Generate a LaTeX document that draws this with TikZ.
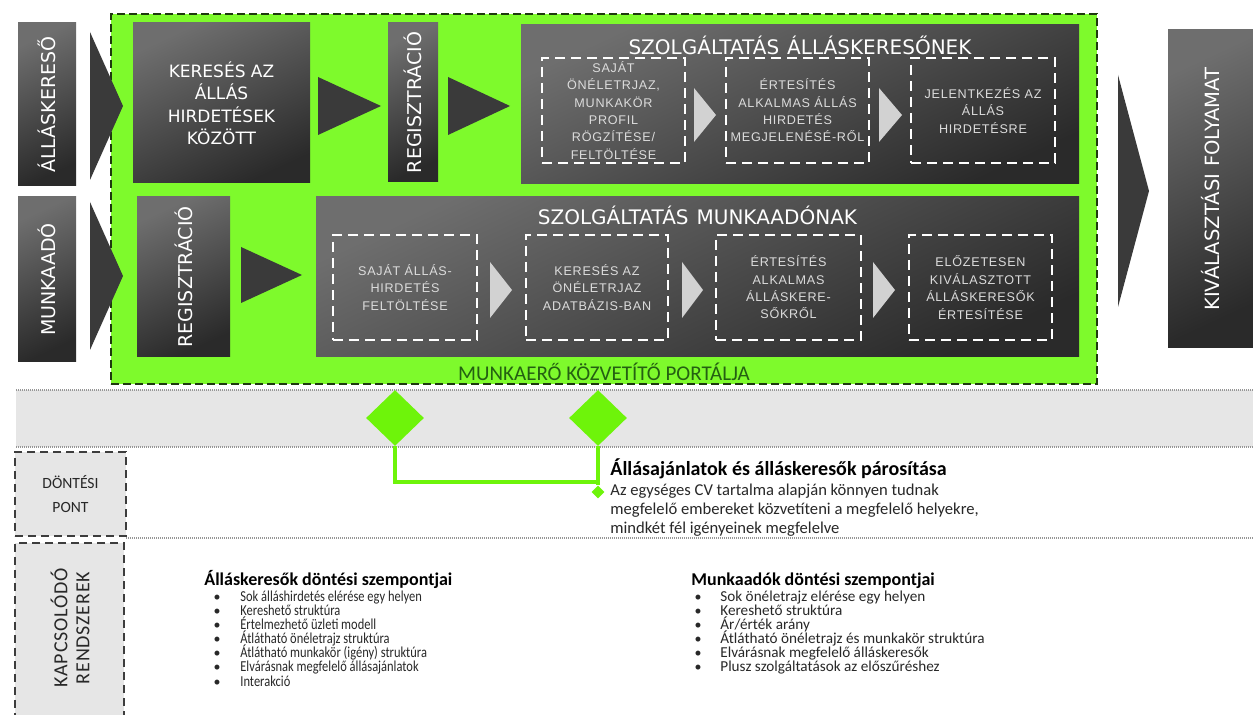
\documentclass[tikz,border=0pt]{standalone}
\usepackage{fontspec}
\setmainfont{Carlito}
\newfontfamily\boxfont{DejaVu Sans}
\newfontfamily\thinfont[LetterSpace=6]{Liberation Sans}
\newfontfamily\calfont{Carlito}
\newfontfamily\calnarrow[FakeStretch=0.82]{Carlito}
\newfontfamily\calspaced[LetterSpace=4]{Carlito}
\usetikzlibrary{shapes.geometric}

\definecolor{portalgreen}{RGB}{126,250,44}
\definecolor{portalborder}{RGB}{30,58,14}
\definecolor{diagreen}{RGB}{110,244,10}
\definecolor{darkgreen}{RGB}{36,96,18}
\definecolor{boxtop}{RGB}{110,110,110}
\definecolor{boxbot}{RGB}{42,42,42}
\definecolor{chev}{RGB}{58,58,58}
\definecolor{chevlight}{RGB}{210,210,210}
\definecolor{bandgray}{RGB}{230,230,230}
\definecolor{steptext}{RGB}{220,220,220}
\definecolor{inktext}{RGB}{40,40,40}
\definecolor{rulegray}{RGB}{150,150,150}

\tikzset{
  darkbox/.style={top color=boxtop, bottom color=boxbot, shading angle=25, inner sep=0pt},
  whitelabel/.style={text=white, font=\boxfont\fontsize{9.5}{11}\selectfont, inner sep=0pt},
  chevron/.style={fill=chev},
  smallchev/.style={fill=chevlight},
  stepbox/.style={draw=white, line width=1pt, dash pattern=on 5pt off 3pt, inner sep=0pt,
    align=center, text=steptext, font=\thinfont\fontsize{6.3}{8.7}\selectfont},
  portal/.style={fill=portalgreen, draw=portalborder, line width=1.1pt, dash pattern=on 4pt off 2pt},
  dotrule/.style={draw=rulegray, line width=0.6pt, dash pattern=on 0.6pt off 0.4pt},
  sidebox/.style={fill=bandgray, draw=inktext!90, line width=0.9pt, dash pattern=on 4pt off 2.5pt, inner sep=0pt},
  gline/.style={draw=diagreen, line width=1.6pt},
  decision/.style={diamond, fill=diagreen, inner sep=0pt, aspect=1},
  heading/.style={anchor=base west, inner sep=0pt, text=black, font=\calfont\bfseries\fontsize{9}{10}\selectfont},
  matchhead/.style={anchor=base west, inner sep=0pt, text=black, font=\calfont\bfseries\fontsize{10}{11}\selectfont},
  bodyline/.style={anchor=base west, inner sep=0pt, text=inktext, font=\calfont\fontsize{8.3}{9}\selectfont},
  listitem/.style={anchor=base west, inner sep=0pt, text=inktext, font=\calfont\fontsize{7.6}{8}\selectfont},
  narrowitem/.style={anchor=base west, inner sep=0pt, text=inktext, font=\calnarrow\fontsize{7.6}{8}\selectfont},
  listdot/.style={anchor=base, inner sep=0pt, text=inktext, font=\calfont\fontsize{7}{8}\selectfont},
}

\begin{document}
\begin{tikzpicture}[x=0.5pt,y=-0.5pt]
\useasboundingbox (0,0) rectangle (1253,715);
\fill[white] (0,0) rectangle (1253,715);

% grey band under the portal
\fill[bandgray] (16,390) rectangle (1253,447);
\draw[dotrule] (16,390) -- (1253,390);
\draw[dotrule] (16,447) -- (1253,447);
\draw[dotrule] (126,538) -- (1253,538);

% the portal area
\node[portal, minimum width=493pt, minimum height=185pt] (portal) at (604,199) {};
\node[text=darkgreen, font=\calfont\fontsize{10.5}{12}\selectfont, inner sep=0pt] (portallabel) at (604,372) {MUNKAERŐ KÖZVETÍTŐ PORTÁLJA};

% actors on the left
\node[darkbox, minimum width=29pt, minimum height=81.5pt] (seeker) at (47,104.5) {};
\node[whitelabel, rotate=90] (seekerlabel) at (seeker.center) {ÁLLÁSKERESŐ};
\node[darkbox, minimum width=29pt, minimum height=82.5pt] (employer) at (47,279.5) {};
\node[whitelabel, rotate=90] (employerlabel) at (employer.center) {MUNKAADÓ};

\fill[chevron] (90,32) -- (123,106) -- (90,180) -- cycle;
\fill[chevron] (90,202) -- (123,276) -- (90,350) -- cycle;

% job seeker row
\node[darkbox, minimum width=88.5pt, minimum height=80pt] (search) at (221.5,103) {};
\node[text=white, align=center, font=\boxfont\fontsize{8.5}{11.25}\selectfont, inner sep=0pt] (searchlabel) at (search.center)
  {KERESÉS AZ\\ÁLLÁS\\HIRDETÉSEK\\KÖZÖTT};
\fill[chevron] (318,77) -- (381,106) -- (318,135) -- cycle;

\node[darkbox, minimum width=25pt, minimum height=79.5pt] (regseeker) at (413,102.5) {};
\node[whitelabel, rotate=90] (regseekerlabel) at (regseeker.center) {REGISZTRÁCIÓ};
\fill[chevron] (448,77) -- (510,106) -- (448,135) -- cycle;

\node[darkbox, minimum width=279pt, minimum height=79.5pt] (seekerservice) at (800,104.5) {};
\node[text=white, font=\boxfont\fontsize{10}{12}\selectfont, inner sep=0pt] (seekertitle) at (800,45)
  {SZOLGÁLTATÁS\hspace{0.4em}ÁLLÁSKERESŐNEK};

\node[stepbox, minimum width=71.5pt, minimum height=52.5pt] (s1) at (613.5,110.5)
  {SAJÁT\\ÖNÉLETRJAZ,\\MUNKAKÖR\\PROFIL\\RÖGZÍTÉSE/\\FELTÖLTÉSE};
\node[stepbox, minimum width=71.5pt, minimum height=52.5pt] (s2) at (797.5,110.5)
  {ÉRTESÍTÉS\\ALKALMAS ÁLLÁS\\HIRDETÉS\\MEGJELENÉSÉ-RŐL};
\node[stepbox, minimum width=72pt, minimum height=52.5pt] (s3) at (983,110.5)
  {JELENTKEZÉS AZ\\ÁLLÁS\\HIRDETÉSRE};
\fill[smallchev] (694,88) -- (716,115) -- (694,142) -- cycle;
\fill[smallchev] (879,88) -- (902,115) -- (879,142) -- cycle;

% employer row
\node[darkbox, minimum width=46.5pt, minimum height=80pt] (regemployer) at (183.5,277) {};
\node[whitelabel, rotate=90] (regemployerlabel) at (regemployer.center) {REGISZTRÁCIÓ};
\fill[chevron] (241,247) -- (302,275) -- (241,303) -- cycle;

\node[darkbox, minimum width=381.5pt, minimum height=80pt] (employerservice) at (697.5,277) {};
\node[text=white, font=\boxfont\fontsize{10}{12}\selectfont, inner sep=0pt] (employertitle) at (697.5,215)
  {SZOLGÁLTATÁS\hspace{0.4em}MUNKAADÓNAK};

\node[stepbox, minimum width=72pt, minimum height=52.5pt] (e1) at (405,287.5)
  {SAJÁT ÁLLÁS-\\HIRDETÉS\\FELTÖLTÉSE};
\node[stepbox, minimum width=71pt, minimum height=52.5pt] (e2) at (597,287.5)
  {KERESÉS AZ\\ÖNÉLETRJAZ\\ADATBÁZIS-BAN};
\node[stepbox, minimum width=72.5pt, minimum height=52.5pt] (e3) at (788.5,287.5)
  {ÉRTESÍTÉS\\ALKALMAS\\ÁLLÁSKERE-\\SŐKRŐL};
\node[stepbox, minimum width=71.5pt, minimum height=52.5pt] (e4) at (980.5,287.5)
  {ELŐZETESEN\\KIVÁLASZTOTT\\ÁLLÁSKERESŐK\\ÉRTESÍTÉSE};
\fill[smallchev] (490,262) -- (512,290) -- (490,318) -- cycle;
\fill[smallchev] (682,262) -- (703,290) -- (682,318) -- cycle;
\fill[smallchev] (873,262) -- (895,290) -- (873,318) -- cycle;

% selection process on the right
\fill[chevron] (1118,75) -- (1149,191) -- (1118,307) -- cycle;
\node[darkbox, minimum width=42.5pt, minimum height=159pt] (selection) at (1210.5,189) {};
\node[text=white, font=\boxfont\fontsize{9.8}{11}\selectfont, inner sep=0pt, rotate=90] (selectionlabel) at (selection.center)
  {KIVÁLASZTÁSI\hspace{0.35em}FOLYAMAT};

% decision points
\node[decision, minimum width=29pt, minimum height=28pt] (d1) at (395,418) {};
\node[decision, minimum width=29pt, minimum height=28pt] (d2) at (598,418) {};
\node[decision, minimum width=6.5pt, minimum height=6.5pt] (d3) at (598,492) {};
\coordinate (join) at (598,482);
\draw[gline] (d1.south) |- (join);
\draw[gline] (d2.south) -- (d3.north);

\node[matchhead] (matchtitle) at (610,476) {Állásajánlatok és álláskeresők párosítása};
\node[bodyline] (match1) at (610,496) {Az egységes CV tartalma alapján könnyen tudnak};
\node[bodyline] (match2) at (610,515) {megfelelő embereket közvetíteni a megfelelő helyekre,};
\node[bodyline] (match3) at (610,534) {mindkét fél igényeinek megfelelve};

% side captions
\node[sidebox, minimum width=55.5pt, minimum height=42pt] (decisionbox) at (70.5,494) {};
\node[align=center, text=inktext, font=\calfont\fontsize{7.8}{12}\selectfont, inner sep=0pt] (decisionlabel) at (decisionbox.center)
  {DÖNTÉSI\\PONT};
\node[sidebox, minimum width=54.5pt, minimum height=92pt] (systemsbox) at (69.5,635) {};
\node[align=center, text=inktext, font=\calspaced\fontsize{10}{11}\selectfont, inner sep=0pt, rotate=90] (systemslabel) at (70,628)
  {KAPCSOLÓDÓ\\RENDSZEREK};

% decision criteria lists
\node[heading] (seekerhead) at (204,586) {Álláskeresők döntési szempontjai};
\foreach \txt [count=\i] in {Sok álláshirdetés elérése egy helyen, Kereshető struktúra,
  Értelmezhető üzleti modell, Átlátható önéletrajz struktúra, Átlátható munkakör (igény) struktúra,
  Elvárásnak megfelelő állásajánlatok, Interakció}
{
  \node[listdot] (sdot\i) at (217,588+14*\i) {•};
  \node[narrowitem] (sitem\i) at (240,588+14*\i) {\txt};
}
\node[heading] (employerhead) at (691,586) {Munkaadók döntési szempontjai};
\foreach \txt [count=\i] in {Sok önéletrajz elérése egy helyen, Kereshető struktúra, Ár/érték arány,
  Átlátható önéletrajz és munkakör struktúra, Elvárásnak megfelelő álláskeresők,
  Plusz szolgáltatások az előszűréshez}
{
  \node[listdot] (edot\i) at (698,588+14*\i) {•};
  \node[listitem] (eitem\i) at (720,588+14*\i) {\txt};
}
\end{tikzpicture}
\end{document}
